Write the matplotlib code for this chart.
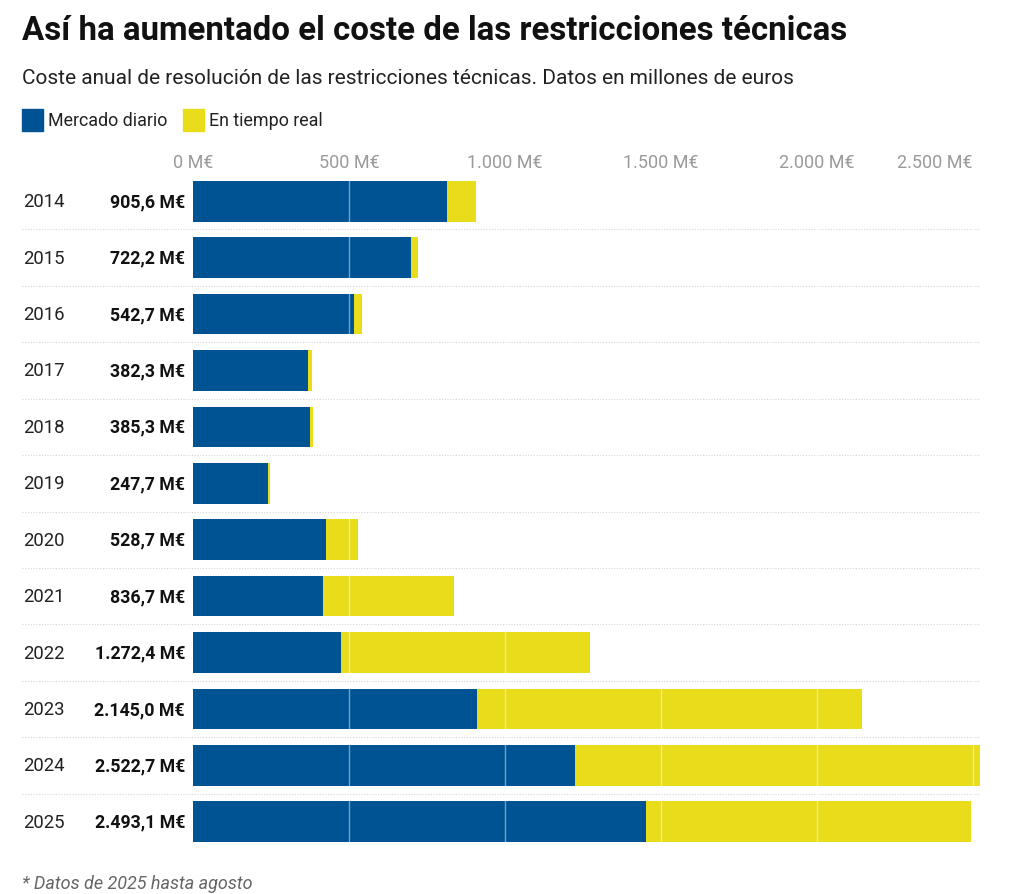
import matplotlib.pyplot as plt
import matplotlib.transforms as mtransforms
from matplotlib.patches import Rectangle

plt.rcParams['font.family'] = ['Roboto', 'DejaVu Sans']

years = ['2014', '2015', '2016', '2017', '2018', '2019', '2020', '2021', '2022', '2023', '2024', '2025']
mercado_diario = [814, 699, 516, 369, 375, 241, 427, 417, 475, 910, 1226, 1452]
totales = [905.6, 722.2, 542.7, 382.3, 385.3, 247.7, 528.7, 836.7, 1272.4, 2145.0, 2522.7, 2493.1]
tiempo_real = [t - m for t, m in zip(totales, mercado_diario)]
ticks = [0, 500, 1000, 1500, 2000, 2500]

BLUE = '#005393'
YELLOW = '#E9DC1B'
W, H = 1028, 895


def fmt(v, dec=0):
    s = f"{v:,.{dec}f}"
    return s.replace(',', 'X').replace('.', ',').replace('X', '.') + ' M€'


fig = plt.figure(figsize=(W / 100, H / 100), dpi=100)
ax = fig.add_axes([193 / W, 1 - 851 / H, (980 - 193) / W, (851 - 174) / H])

y = list(range(len(years)))
ax.barh(y, mercado_diario, height=0.72, color=BLUE, zorder=2)
ax.barh(y, tiempo_real, left=mercado_diario, height=0.72, color=YELLOW, zorder=2)

for t in ticks[1:]:
    ax.axvline(t, color='white', lw=1, alpha=0.45, zorder=3)

ax.set_xlim(0, max(totales))
ax.set_ylim(len(years) - 0.5, -0.5)
ax.set_yticks([])
ax.set_xticks([])
for s in ax.spines.values():
    s.set_visible(False)

# top tick labels (last one right-aligned to stay inside)
ttrans = mtransforms.blended_transform_factory(ax.transData, fig.transFigure)
for t in ticks:
    ha = 'right' if t == ticks[-1] else 'center'
    ax.text(t, 1 - 163 / H, fmt(t), transform=ttrans, ha=ha, va='center',
            fontsize=13, color='#9a9a9a')

trans = mtransforms.blended_transform_factory(fig.transFigure, ax.transData)
for i, (yr, tot) in enumerate(zip(years, totales)):
    ax.text(23 / W, i, yr, transform=trans, ha='left', va='center', fontsize=13.3, color='#222222')
    ax.text(185 / W, i, fmt(tot, 1), transform=trans, ha='right', va='center',
            fontsize=12.8, fontweight='bold', color='#111111')
    if i < len(years) - 1:
        ax.plot([22 / W, 980 / W], [i + 0.5, i + 0.5], transform=trans, color='#d6d6d6',
                lw=0.8, ls=(0, (1, 1.5)), clip_on=False, zorder=1)

fig.text(22 / W, 1 - 31 / H, 'Así ha aumentado el coste de las restricciones técnicas',
         fontsize=23.8, fontweight='bold', va='center', ha='left', color='#111111')
fig.text(22 / W, 1 - 78 / H, 'Coste anual de resolución de las restricciones técnicas. Datos en millones de euros',
         fontsize=15, va='center', ha='left', color='#222222')

# legend
for x0, col, label in [(22, BLUE, 'Mercado diario'), (183, YELLOW, 'En tiempo real')]:
    fig.patches.append(Rectangle((x0 / W, 1 - 132 / H), 21 / W, 22 / H, color=col,
                                 transform=fig.transFigure, figure=fig))
    fig.text((x0 + 26) / W, 1 - 121 / H, label, fontsize=12.9, va='center', ha='left', color='#222222')

fig.text(22 / W, 1 - 884 / H, '* Datos de 2025 hasta agosto', fontsize=13, style='italic',
         va='center', ha='left', color='#666666')

fig.savefig('out.png', dpi=100)
